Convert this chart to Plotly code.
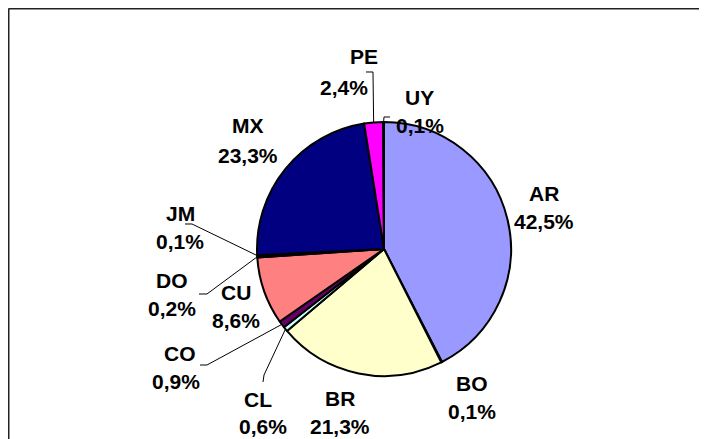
import math
import plotly.graph_objects as go

countries = ["AR", "BO", "BR", "CL", "CO", "CU", "DO", "JM", "MX", "PE", "UY"]
shares = [42.5, 0.1, 21.3, 0.6, 0.9, 8.6, 0.2, 0.1, 23.3, 2.4, 0.1]
slice_colors = ["#9999FF", "#993366", "#FFFFCC", "#CCFFFF", "#660066", "#FF8080",
                "#0066CC", "#CCCCFF", "#000080", "#FF00FF", "#FFFF00"]

OFF = 8  # page body margin: figure is drawn 8px in from the window corner
W, H = 707 - OFF, 439 - OFF
cx, cy, r = 384, 249, 127

# label / value text centres in window pixels (layout only)
label_pos = {
    "AR": (544, 193), "BO": (472, 383), "BR": (340, 398), "CL": (258, 399),
    "CO": (180, 353), "CU": (236, 292), "DO": (172, 280), "JM": (180, 213),
    "MX": (248, 126), "PE": (364, 57), "UY": (419, 97),
}
value_pos = {
    "AR": (544, 222), "BO": (472, 411), "BR": (340, 426), "CL": (263, 426),
    "CO": (176, 381), "CU": (236, 320), "DO": (172, 308), "JM": (180, 241),
    "MX": (248, 155), "PE": (344, 87), "UY": (420, 125),
}
# elbow points of leader lines (label side), the pie end is computed
leaders = {
    "PE": [(366, 72), (373, 72)],
    "UY": [(390, 117), (384, 117)],
    "JM": [(185, 224), (192, 224)],
    "DO": [(199, 294), (207, 294)],
    "CO": [(200, 365), (207, 365)],
    "CL": [(263, 382), (264, 375)],
}


def px(x, y):
    return (x - OFF) / W, 1 - (y - OFF) / H


def fmt(v):
    return f"{v:.1f}".replace(".", ",") + "%"


total = sum(shares)
mid_point = {}
cum = 0
for c, s in zip(countries, shares):
    a = 2 * math.pi * (cum + s / 2) / total
    mid_point[c] = (cx + r * math.sin(a), cy - r * math.cos(a))
    cum += s

x0, y1 = px(cx - r, cy - r)
x1, y0 = px(cx + r, cy + r)

fig = go.Figure(go.Pie(
    labels=countries,
    values=shares,
    sort=False,
    direction="clockwise",
    rotation=0,
    marker=dict(colors=slice_colors, line=dict(color="black", width=2)),
    textinfo="none",
    hoverinfo="label+percent",
    domain=dict(x=[x0, x1], y=[y0, y1]),
))

font = dict(family="Liberation Sans, Arial", size=21, color="black")
annotations = []
for c, s in zip(countries, shares):
    lx, ly = px(*label_pos[c])
    vx, vy = px(*value_pos[c])
    annotations.append(dict(x=lx, y=ly, xref="paper", yref="paper", text=f"<b>{c}</b>",
                            showarrow=False, font=font, xanchor="center", yanchor="middle"))
    annotations.append(dict(x=vx, y=vy, xref="paper", yref="paper", text=f"<b>{fmt(s)}</b>",
                            showarrow=False, font=font, xanchor="center", yanchor="middle"))

shapes = []
for c, pts in leaders.items():
    allpts = [px(*p) for p in pts + [mid_point[c]]]
    path = "M " + " L ".join(f"{a:.5f},{b:.5f}" for a, b in allpts)
    shapes.append(dict(type="path", path=path, xref="paper", yref="paper",
                       line=dict(color="black", width=1)))

# chart area border (only top and left edges are visible)
bx, by = px(8.5, 8.5)
border = dict(color="#222222", width=2)
shapes.append(dict(type="line", xref="paper", yref="paper", x0=bx, y0=by, x1=1.0, y1=by, line=border))
shapes.append(dict(type="line", xref="paper", yref="paper", x0=bx, y0=by, x1=bx, y1=0.0, line=border))

fig.update_layout(
    width=W, height=H,
    margin=dict(l=0, r=0, t=0, b=0),
    paper_bgcolor="white",
    plot_bgcolor="white",
    showlegend=False,
    annotations=annotations,
    shapes=shapes,
)

fig.write_html("out.html", config={"displayModeBar": False})
